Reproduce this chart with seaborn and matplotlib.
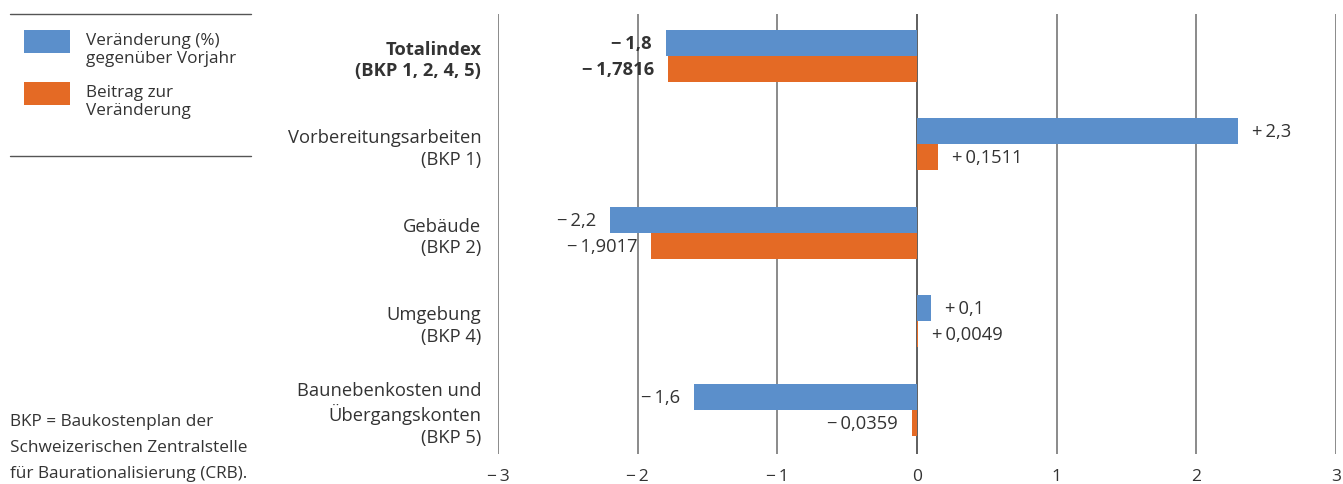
import pandas as pd
import matplotlib.pyplot as plt
from matplotlib.patches import Rectangle
from matplotlib.lines import Line2D
import seaborn as sns

# data
categories = ["Totalindex\n(BKP 1, 2, 4, 5)",
              "Vorbereitungsarbeiten\n(BKP 1)",
              "Gebäude\n(BKP 2)",
              "Umgebung\n(BKP 4)",
              "Baunebenkosten und\nÜbergangskonten\n(BKP 5)"]
change_pct = [-1.8, 2.3, -2.2, 0.1, -1.6]
contribution = [-1.7816, 0.1511, -1.9017, 0.0049, -0.0359]
series_names = ["Veränderung (%)\ngegenüber Vorjahr", "Beitrag zur\nVeränderung"]
x_ticks = [-3, -2, -1, 0, 1, 2, 3]

blue = "#5B8FCB"
orange = "#E46A25"
text_col = "#333333"

sns.set_style("white")
plt.rcParams['font.family'] = ['Open Sans', 'DejaVu Sans']
plt.rcParams['text.color'] = text_col

df = pd.DataFrame({
    "cat": categories * 2,
    "value": change_pct + contribution,
    "series": [series_names[0]] * 5 + [series_names[1]] * 5,
})

W, H = 1343, 485
fig = plt.figure(figsize=(W / 100, H / 100), dpi=100)
ax = fig.add_axes([498 / W, 0.062, 838 / W, 0.907])

sns.barplot(data=df, y="cat", x="value", hue="series", orient="h",
            palette=[blue, orange], width=0.59, saturation=1,
            linewidth=0, edgecolor="none", legend=False, ax=ax)

# vertical grid lines
for t in x_ticks:
    ax.axvline(t, color="#333333" if t == 0 else "#6b6b6b", lw=1.1, zorder=0)

ax.set_xlim(-3, 3)
ax.set_ylim(4.5, -0.47)
ax.set_xticks(x_ticks)
ax.set_xticklabels([("\u2212\u2009" + str(abs(t))) if t < 0 else str(t) for t in x_ticks],
                   fontsize=12.5, color=text_col)
ax.set_xlabel("")
ax.set_ylabel("")
ax.tick_params(axis="x", length=0, pad=10)
ax.tick_params(axis="y", length=0, pad=12)
ax.set_yticks(range(len(categories)))
ax.set_yticklabels(categories, fontsize=13.2, color=text_col, linespacing=1.25)
ax.get_yticklabels()[0].set_fontweight("bold")
for s in ax.spines.values():
    s.set_visible(False)


def fmt(v, dec):
    sign = "\u2212" if v < 0 else "+"
    return sign + "\u2009" + f"{abs(v):.{dec}f}".replace(".", ",")


for cont, vals, dec in zip(ax.containers, [change_pct, contribution], [1, 4]):
    txts = ax.bar_label(cont, labels=[fmt(v, dec) for v in vals], padding=10,
                        fontsize=13.2, color=text_col)
    txts[0].set_fontweight("bold")

# legend on the left, drawn by hand
for i, (name, col) in enumerate(zip(series_names, [blue, orange])):
    top = 31 + 52 * i
    fig.add_artist(Rectangle((24 / W, 1 - (top + 23) / H), 46 / W, 23 / H,
                             facecolor=col, edgecolor="none", transform=fig.transFigure))
    fig.text(86 / W, 1 - (top + 2) / H, name, fontsize=12.3, color=text_col,
             ha="left", va="top", linespacing=1.15)
for y in [15, 157]:
    fig.add_artist(Line2D([10 / W, 251 / W], [1 - y / H, 1 - y / H],
                          color="#555555", lw=1, transform=fig.transFigure))

fig.text(10 / W, 1 - 478 / H,
         "BKP = Baukostenplan der\nSchweizerischen Zentralstelle\nfür Baurationalisierung (CRB).",
         fontsize=12.4, color=text_col, ha="left", va="baseline", linespacing=1.83)

fig.savefig("out.png", dpi=100)
